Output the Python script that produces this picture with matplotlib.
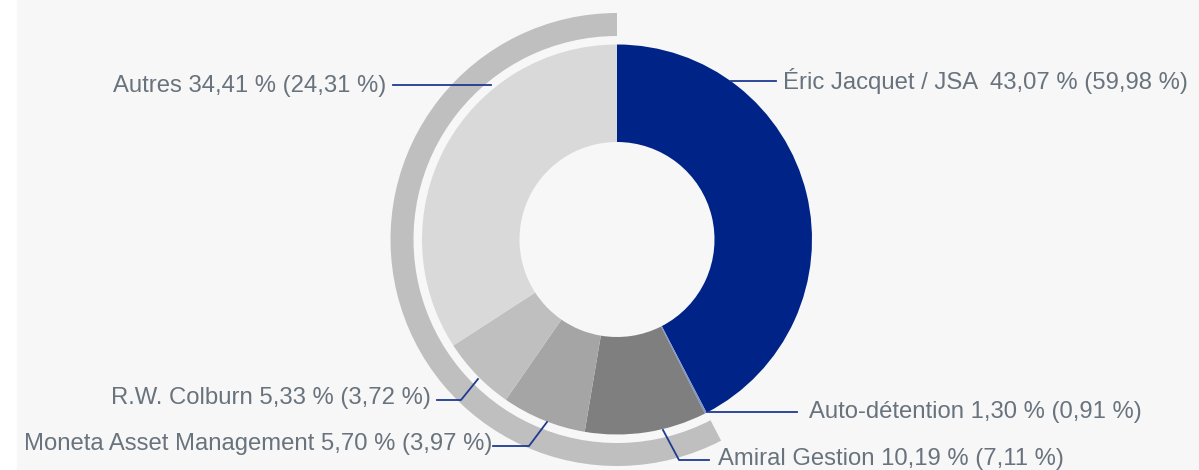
import matplotlib
matplotlib.use("Agg")
import matplotlib.pyplot as plt
from matplotlib.patches import Rectangle

# shareholders, clockwise from 12 o'clock
holders = ["Éric Jacquet / JSA ", "Auto-détention", "Amiral Gestion",
           "Moneta Asset Management", "R.W. Colburn", "Autres"]
capital = ["43,07", "1,30", "10,19", "5,70", "5,33", "34,41"]
votes = ["59,98", "0,91", "7,11", "3,97", "3,72", "24,31"]
# slice sizes as drawn in the chart (%)
shares = [42.4, 0.15, 10.1, 7.0, 6.2, 34.15]
colors = ["#002388", "#8093c8", "#7f7f7f", "#a5a5a5", "#bfbfbf", "#d9d9d9"]

W, H = 1199, 470
text_col = "#69737d"
line_col = "#1f3a93"

fig = plt.figure(figsize=(W / 100, H / 100), dpi=100, facecolor="white")
ax = fig.add_axes([0, 0, 1, 1])
ax.set_facecolor("white")

# grey panel (thin white strip on the left)
ax.add_patch(Rectangle((17, 0), W - 17, H, color="#f7f7f7", zorder=0))

cx, cy = 617, H - 239.5
r = 195

# donut
ax.pie(shares, colors=colors, startangle=90, counterclock=False,
       radius=r, center=(cx, cy),
       wedgeprops=dict(width=r / 2, linewidth=0))

# outer ring around everything except Jacquet
ring = [shares[0], sum(shares[1:])]
ax.pie(ring, colors=["none", "#bfbfbf"], startangle=90, counterclock=False,
       radius=226.5, center=(cx, cy),
       wedgeprops=dict(width=23, linewidth=0))

# labels: (text x, text y, alignment, leader line points) in pixel coords
label_pos = [
    (783, 81, "left", [(731, 81), (776, 81)]),
    (809, 412, "left", [(707, 412), (797, 412)]),
    (718, 459, "left", [(663, 430), (679, 460), (709, 460)]),
    (492, 444, "right", [(547, 422), (529, 446), (493, 446)]),
    (431, 398, "right", [(478, 379), (461, 400), (437, 400)]),
    (386, 86, "right", [(491, 85), (393, 85)]),
]

for i, (tx, ty, ha, pts) in enumerate(label_pos):
    xs = [p[0] for p in pts]
    ys = [H - p[1] for p in pts]
    ax.plot(xs, ys, color=line_col, lw=1.3, zorder=5)
    label = holders[i] + " " + capital[i] + " % (" + votes[i] + " %)"
    ax.text(tx, H - ty, label, ha=ha, va="center", color=text_col,
            fontsize=17.2, family="Liberation Sans", zorder=6)

ax.set_xlim(0, W)
ax.set_ylim(0, H)
ax.set_aspect("equal")
ax.axis("off")

fig.savefig("out.png", dpi=100, facecolor="white")
